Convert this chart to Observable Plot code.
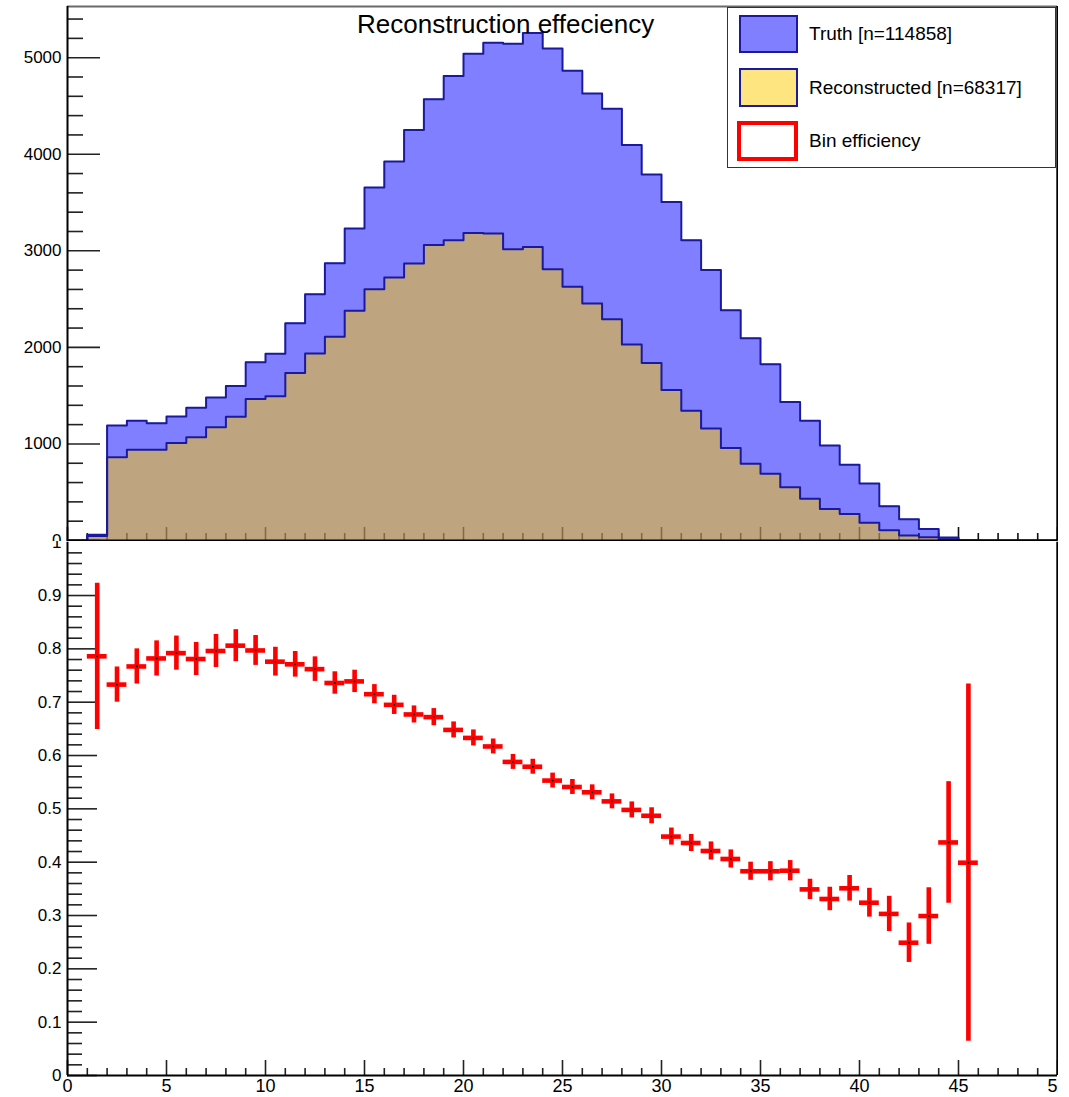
<!DOCTYPE html>
<html>
<head>
<meta charset="utf-8">
<script src="https://cdn.jsdelivr.net/npm/d3@7"></script>
<script src="https://cdn.jsdelivr.net/npm/@observablehq/plot@0.6"></script>
<style>
  body { margin: 0; background: #fff; }
  #root { position: relative; width: 1069px; height: 1097px; overflow: hidden; background: #fff;
          font-family: "Liberation Sans", Arial, Helvetica, sans-serif; color: #000; }
  .wrap { position: absolute; left: 0; overflow: hidden; }
  .wrap svg { display: block; max-width: none !important; }
  #title { position: absolute; left: 357px; top: 11px; font-size: 26px; line-height: 26px; white-space: nowrap; }
  #legend { position: absolute; left: 727px; top: 7px; width: 327px; height: 159px; border: 1px solid #333; background: #fff; }
  .lbox { position: absolute; box-sizing: border-box; }
  .ltext { position: absolute; left: 81px; font-size: 19px; white-space: nowrap; }
</style>
</head>
<body>
<div id="root">
  <div class="wrap" id="topWrap" style="top:0;width:1058px;height:541px;"></div>
  <div class="wrap" id="botWrap" style="top:541px;width:1058px;height:556px;"></div>
  <div id="title">Reconstruction effeciency</div>
  <div id="legend"></div>
</div>
<script>
// ---------------- data ----------------
const xDomain = [0, 50];
// histogram bins: 50 bins of width 1 from 0 to 50 (counts per bin)
const truthCounts = [0, 60, 1190, 1240, 1215, 1285, 1375, 1480, 1600, 1845,
  1935, 2250, 2550, 2870, 3230, 3655, 3925, 4250, 4570, 4810,
  5040, 5155, 5145, 5255, 5095, 4865, 4630, 4470, 4095, 3790,
  3505, 3110, 2800, 2385, 2095, 1825, 1435, 1240, 985, 785,
  590, 355, 220, 120, 30, 3, 0, 0, 0, 0];
const recoCounts = [0, 47, 862, 941, 941, 1010, 1069, 1172, 1282, 1465,
  1493, 1734, 1937, 2110, 2378, 2603, 2723, 2868, 3061, 3110,
  3185, 3178, 3016, 3040, 2810, 2627, 2454, 2292, 2030, 1838,
  1558, 1344, 1161, 958, 796, 690, 551, 432, 326, 275,
  183, 105, 52, 34, 13, 1, 0, 0, 0, 0];
// efficiency per bin (bins 1..45)
const effBins = [1,2,3,4,5,6,7,8,9,10,11,12,13,14,15,16,17,18,19,20,21,22,23,24,25,26,27,28,29,30,31,32,33,34,35,36,37,38,39,40,41,42,43,44,45];
const effValues = [0.786, 0.733, 0.767, 0.782, 0.792, 0.781, 0.796, 0.806, 0.797, 0.776,
  0.771, 0.762, 0.736, 0.739, 0.715, 0.695, 0.677, 0.672, 0.648, 0.633,
  0.617, 0.588, 0.579, 0.553, 0.541, 0.531, 0.514, 0.498, 0.487, 0.448,
  0.436, 0.421, 0.406, 0.383, 0.383, 0.384, 0.349, 0.331, 0.351, 0.324,
  0.303, 0.249, 0.299, 0.437, 0.399];
const effErrors = [0.137, 0.033, 0.033, 0.033, 0.032, 0.031, 0.031, 0.030, 0.028, 0.027,
  0.024, 0.023, 0.021, 0.021, 0.018, 0.018, 0.016, 0.016, 0.015, 0.015,
  0.014, 0.014, 0.014, 0.014, 0.014, 0.014, 0.014, 0.015, 0.015, 0.016,
  0.016, 0.017, 0.017, 0.017, 0.018, 0.019, 0.019, 0.022, 0.024, 0.027,
  0.033, 0.037, 0.053, 0.114, 0.335];
// tick labels
const xTickValues = [0, 5, 10, 15, 20, 25, 30, 35, 40, 45, 50];
const xTickLabels = ["0", "5", "10", "15", "20", "25", "30", "35", "40", "45", "50"];
const yTopTickValues = [0, 1000, 2000, 3000, 4000, 5000];
const yTopTickLabels = ["0", "1000", "2000", "3000", "4000", "5000"];
const yBotTickValues = [0, 0.1, 0.2, 0.3, 0.4, 0.5, 0.6, 0.7, 0.8, 0.9, 1];
const yBotTickLabels = ["0", "0.1", "0.2", "0.3", "0.4", "0.5", "0.6", "0.7", "0.8", "0.9", "1"];
const legendLabels = ["Truth [n=114858]", "Reconstructed [n=68317]", "Bin efficiency"];
const topYMax = 5530;
const botYDomain = [0, 1];

// ---------------- styling ----------------
const FONT = "'Liberation Sans', Arial, Helvetica, sans-serif";
const W = 1058, ML = 67, MR = 1;
const innerW = W - ML - MR;
const OUTLINE = "#1a1a9a";
const RED = "#ff0000";
const baseStyle = {background: "transparent", fontFamily: FONT, fontSize: "17px", color: "#000", overflow: "hidden"};

const binEdges = d3.range(xDomain[0], xDomain[1] + 1);
function stepData(counts) {
  const a = counts.map((c, i) => ({x: binEdges[i], y: c}));
  a.push({x: binEdges[counts.length], y: counts[counts.length - 1]});
  return a;
}
const truthData = stepData(truthCounts);
const recoData = stepData(recoCounts);
const effData = effBins.map((b, i) => ({lo: b, hi: b + 1, xc: b + 0.5, v: effValues[i], e: effErrors[i]}));

const xMinor = d3.range(xDomain[0], xDomain[1] + 1, 1).filter(d => d % 5 !== 0);
const xMajor = d3.range(xDomain[0], xDomain[1] + 1, 5);
const yTopMinor = d3.range(0, topYMax, 200).filter(d => d % 1000 !== 0);
const yBotMinor = d3.range(0, 50).map(i => i * 0.02).filter((d, i) => i % 5 !== 0);

// ---------------- top pad ----------------
const topH = 541, topMT = 6, topMB = 1;
const topInnerH = topH - topMT - topMB;
const topPlot = Plot.plot({
  width: W, height: topH, marginTop: topMT, marginBottom: topMB, marginLeft: ML, marginRight: MR,
  x: {domain: xDomain, axis: null},
  y: {domain: [0, topYMax], axis: null},
  style: baseStyle,
  marks: [
    Plot.ruleX(xMinor, {x: d => d, insetTop: topInnerH - 7, stroke: "#111", strokeWidth: 1.6}),
    Plot.ruleX(xMajor, {x: d => d, insetTop: topInnerH - 13, stroke: "#111", strokeWidth: 1.6}),
    Plot.areaY(truthData, {x: "x", y: "y", curve: "step-after", fill: "#0000ff", fillOpacity: 0.5}),
    Plot.areaY(recoData, {x: "x", y: "y", curve: "step-after", fill: "#ffcc00", fillOpacity: 0.5}),
    Plot.lineY(truthData, {x: "x", y: "y", curve: "step-after", stroke: OUTLINE, strokeWidth: 2}),
    Plot.lineY(recoData, {x: "x", y: "y", curve: "step-after", stroke: OUTLINE, strokeWidth: 2}),
    Plot.ruleY(yTopMinor, {y: d => d, insetRight: innerW - 16, stroke: "#222", strokeWidth: 1.6}),
    Plot.ruleY(yTopTickValues, {y: d => d, insetRight: innerW - 33, stroke: "#222", strokeWidth: 1.6}),
    Plot.ruleY([topYMax], {stroke: "#6a6a6a", strokeWidth: 2}),
    Plot.ruleY([0], {stroke: "#000", strokeWidth: 2}),
    Plot.ruleX([xDomain[0]], {stroke: "#000", strokeWidth: 2}),
    Plot.ruleX([xDomain[1]], {stroke: "#000", strokeWidth: 2.4}),
    Plot.text(yTopTickValues.map((v, i) => ({v, label: yTopTickLabels[i]})),
      {y: "v", text: "label", frameAnchor: "left", textAnchor: "end", dx: -6, fontSize: 17, fill: "#000"})
  ]
});
document.getElementById("topWrap").appendChild(topPlot);

// ---------------- bottom pad ----------------
const botH = 556, botMT = 0.7, botMB = 22;
const botInnerH = botH - botMT - botMB;
const botPlot = Plot.plot({
  width: W, height: botH, marginTop: botMT, marginBottom: botMB, marginLeft: ML, marginRight: MR,
  x: {domain: xDomain, axis: null},
  y: {domain: botYDomain, axis: null},
  style: baseStyle,
  marks: [
    Plot.ruleX(xMinor, {x: d => d, insetTop: botInnerH - 7, stroke: "#222", strokeWidth: 1.6}),
    Plot.ruleX(xMajor, {x: d => d, insetTop: botInnerH - 15, stroke: "#222", strokeWidth: 1.6}),
    Plot.ruleY(yBotMinor, {y: d => d, insetRight: innerW - 15, stroke: "#222", strokeWidth: 1.6}),
    Plot.ruleY(yBotTickValues.slice(0, -1), {y: d => d, insetRight: innerW - 30, stroke: "#222", strokeWidth: 1.6}),
    Plot.ruleY([0], {stroke: "#000", strokeWidth: 2}),
    Plot.ruleX([xDomain[0]], {stroke: "#000", strokeWidth: 2}),
    Plot.ruleX([xDomain[1]], {stroke: "#000", strokeWidth: 2.4}),
    Plot.ruleX(effData, {x: "xc", y1: d => d.v - d.e, y2: d => d.v + d.e, stroke: RED, strokeWidth: 4.6}),
    Plot.ruleY(effData, {y: "v", x1: "lo", x2: "hi", stroke: RED, strokeWidth: 4.6}),
    Plot.dot(effData, {x: "xc", y: "v", r: 0.9, fill: "#000", stroke: null}),
    Plot.text(yBotTickValues.map((v, i) => ({v, label: yBotTickLabels[i]})),
      {y: "v", text: "label", frameAnchor: "left", textAnchor: "end", dx: -6, fontSize: 17, fill: "#000"}),
    Plot.text(xTickValues.map((v, i) => ({v, label: xTickLabels[i]})),
      {x: "v", text: "label", frameAnchor: "bottom", lineAnchor: "top", dy: 4, fontSize: 18, fill: "#000"})
  ]
});
document.getElementById("botWrap").appendChild(botPlot);

// ---------------- legend ----------------
const legend = document.getElementById("legend");
const legendSpec = [
  {top: 7, h: 38, bg: "rgba(0,0,255,0.5)", border: "2px solid " + OUTLINE},
  {top: 60, h: 39, bg: "rgba(255,204,0,0.5)", border: "2px solid " + OUTLINE},
  {top: 113, h: 40, bg: "#fff", border: "4.5px solid " + RED}
];
legendSpec.forEach((s, i) => {
  const b = document.createElement("div");
  b.className = "lbox";
  b.style.cssText = `left:${i === 2 ? 9 : 11}px;top:${s.top}px;width:${i === 2 ? 61 : 59}px;height:${s.h}px;background:${s.bg};border:${s.border};`;
  legend.appendChild(b);
  const t = document.createElement("div");
  t.className = "ltext";
  t.style.top = s.top + "px";
  t.style.height = s.h + "px";
  t.style.lineHeight = s.h + "px";
  t.textContent = legendLabels[i];
  legend.appendChild(t);
});
</script>
</body>
</html>
